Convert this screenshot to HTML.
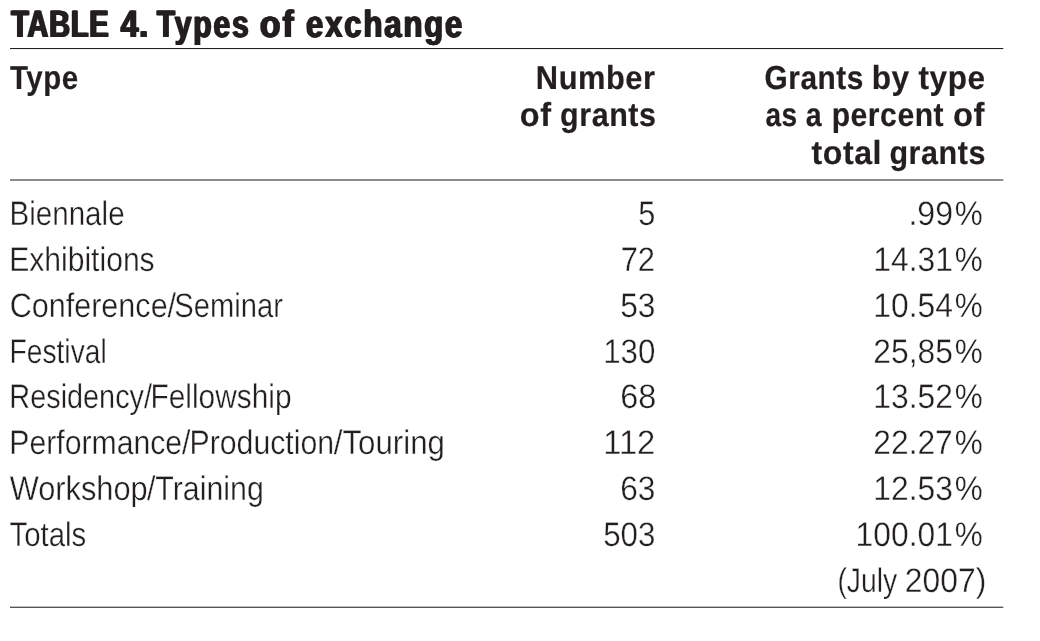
<!DOCTYPE html>
<html lang="en"><head><meta charset="utf-8"><title>TABLE 4. Types of exchange</title>
<style>
html,body{margin:0;padding:0;background:#fff;}
body{width:1040px;height:641px;overflow:hidden;}
svg{display:block;}
text{font-family:"Liberation Sans",sans-serif;fill:#231f20;white-space:pre;text-rendering:geometricPrecision;}
.t{font-weight:bold;stroke:#231f20;stroke-width:0.2px;stroke-linejoin:round;text-shadow:0.95px 0 #231f20,-0.95px 0 #231f20;letter-spacing:2.3px;}
.b{font-weight:bold;stroke:#231f20;stroke-width:0.2px;stroke-linejoin:round;letter-spacing:0.6px;}
.l{stroke:#fff;stroke-width:0.35px;paint-order:fill stroke;}
</style></head><body>
<svg width="1040" height="641" viewBox="0 0 1040 641">
<rect width="1040" height="641" fill="#fff"/>
<rect x="10" y="48" width="993.3" height="1.05" fill="#231f20"/>
<rect x="10" y="179.05" width="993.3" height="1.85" fill="#858283"/>
<rect x="10" y="606.65" width="993.3" height="1.3" fill="#514d4e"/>
<text y="37" font-size="38.0" class="t"><tspan x="11.02" textLength="98.35" lengthAdjust="spacingAndGlyphs" style="letter-spacing:1px;text-shadow:1.15px 0 #231f20,-1.15px 0 #231f20">TABLE</tspan> <tspan x="120.64" textLength="28.32" lengthAdjust="spacingAndGlyphs" style="letter-spacing:1px;text-shadow:1.15px 0 #231f20,-1.15px 0 #231f20">4.</tspan> <tspan x="156.85" textLength="93.80" lengthAdjust="spacingAndGlyphs">Types</tspan> <tspan x="259.92" textLength="35.79" lengthAdjust="spacingAndGlyphs">of</tspan> <tspan x="306.09" textLength="158.15" lengthAdjust="spacingAndGlyphs">exchange</tspan></text>
<text y="89" font-size="33.2" class="b"><tspan x="10.05" textLength="68.63" lengthAdjust="spacingAndGlyphs">Type</tspan></text>
<text y="89" font-size="33.2" class="b"><tspan x="535.84" textLength="119.76" lengthAdjust="spacingAndGlyphs">Number</tspan></text>
<text y="126" font-size="33.2" class="b"><tspan x="519.81" textLength="31.77" lengthAdjust="spacingAndGlyphs">of</tspan> <tspan x="560.12" textLength="96.40" lengthAdjust="spacingAndGlyphs">grants</tspan></text>
<text y="89" font-size="33.2" class="b"><tspan x="764.62" textLength="99.30" lengthAdjust="spacingAndGlyphs">Grants</tspan> <tspan x="871.66" textLength="38.12" lengthAdjust="spacingAndGlyphs">by</tspan> <tspan x="918.48" textLength="67.15" lengthAdjust="spacingAndGlyphs">type</tspan></text>
<text y="126" font-size="33.2" class="b"><tspan x="765.46" textLength="32.19" lengthAdjust="spacingAndGlyphs">as</tspan> <tspan x="805.67" textLength="16.39" lengthAdjust="spacingAndGlyphs">a</tspan> <tspan x="831.68" textLength="112.47" lengthAdjust="spacingAndGlyphs">percent</tspan> <tspan x="952.93" textLength="32.12" lengthAdjust="spacingAndGlyphs">of</tspan></text>
<text y="164" font-size="33.2" class="b"><tspan x="811.47" textLength="70.65" lengthAdjust="spacingAndGlyphs">total</tspan> <tspan x="889.41" textLength="96.50" lengthAdjust="spacingAndGlyphs">grants</tspan></text>
<text y="225" font-size="34.0" class="l"><tspan x="9.47" textLength="115.14" lengthAdjust="spacingAndGlyphs">Biennale</tspan></text>
<text y="225" font-size="34.0" class="l"><tspan x="638.22" textLength="17.08" lengthAdjust="spacingAndGlyphs">5</tspan></text>
<text y="225" font-size="34.0" class="l"><tspan x="908.48" textLength="44.50" lengthAdjust="spacingAndGlyphs">.99</tspan><tspan x="954.71" textLength="27.95" lengthAdjust="spacingAndGlyphs">%</tspan></text>
<text y="271" font-size="34.0" class="l"><tspan x="9.16" textLength="145.50" lengthAdjust="spacingAndGlyphs">Exhibitions</tspan></text>
<text y="271" font-size="34.0" class="l"><tspan x="620.63" textLength="34.39" lengthAdjust="spacingAndGlyphs">72</tspan></text>
<text y="271" font-size="34.0" class="l"><tspan x="873.30" textLength="79.59" lengthAdjust="spacingAndGlyphs">14.31</tspan><tspan x="954.71" textLength="27.95" lengthAdjust="spacingAndGlyphs">%</tspan></text>
<text y="317" font-size="34.0" class="l"><tspan x="9.66" textLength="166.46" lengthAdjust="spacingAndGlyphs">Conference/</tspan><tspan x="174.35" textLength="108.57" lengthAdjust="spacingAndGlyphs">Seminar</tspan></text>
<text y="317" font-size="34.0" class="l"><tspan x="620.16" textLength="35.33" lengthAdjust="spacingAndGlyphs">53</tspan></text>
<text y="317" font-size="34.0" class="l"><tspan x="873.30" textLength="79.59" lengthAdjust="spacingAndGlyphs">10.54</tspan><tspan x="954.71" textLength="27.95" lengthAdjust="spacingAndGlyphs">%</tspan></text>
<text y="363" font-size="34.0" class="l"><tspan x="9.52" textLength="97.17" lengthAdjust="spacingAndGlyphs">Festival</tspan></text>
<text y="363" font-size="34.0" class="l"><tspan x="603.16" textLength="52.18" lengthAdjust="spacingAndGlyphs">130</tspan></text>
<text y="363" font-size="34.0" class="l"><tspan x="873.30" textLength="79.59" lengthAdjust="spacingAndGlyphs">25,85</tspan><tspan x="954.71" textLength="27.95" lengthAdjust="spacingAndGlyphs">%</tspan></text>
<text y="408" font-size="34.0" class="l"><tspan x="9.37" textLength="142.66" lengthAdjust="spacingAndGlyphs">Residency/</tspan><tspan x="150.50" textLength="141.01" lengthAdjust="spacingAndGlyphs">Fellowship</tspan></text>
<text y="408" font-size="34.0" class="l"><tspan x="620.14" textLength="36.11" lengthAdjust="spacingAndGlyphs">68</tspan></text>
<text y="408" font-size="34.0" class="l"><tspan x="873.30" textLength="79.59" lengthAdjust="spacingAndGlyphs">13.52</tspan><tspan x="954.71" textLength="27.95" lengthAdjust="spacingAndGlyphs">%</tspan></text>
<text y="454" font-size="34.0" class="l"><tspan x="9.36" textLength="181.13" lengthAdjust="spacingAndGlyphs">Performance/</tspan><tspan x="189.50" textLength="144.58" lengthAdjust="spacingAndGlyphs">Production</tspan><tspan x="333.71" textLength="111.21" lengthAdjust="spacingAndGlyphs">/Touring</tspan></text>
<text y="454" font-size="34.0" class="l"><tspan x="603.16" textLength="52.18" lengthAdjust="spacingAndGlyphs">112</tspan></text>
<text y="454" font-size="34.0" class="l"><tspan x="873.30" textLength="79.50" lengthAdjust="spacingAndGlyphs">22.27</tspan><tspan x="954.71" textLength="27.95" lengthAdjust="spacingAndGlyphs">%</tspan></text>
<text y="500" font-size="34.0" class="l"><tspan x="9.70" textLength="138.06" lengthAdjust="spacingAndGlyphs">Workshop</tspan><tspan x="146.88" textLength="116.96" lengthAdjust="spacingAndGlyphs">/Training</tspan></text>
<text y="500" font-size="34.0" class="l"><tspan x="620.25" textLength="35.23" lengthAdjust="spacingAndGlyphs">63</tspan></text>
<text y="500" font-size="34.0" class="l"><tspan x="873.30" textLength="79.59" lengthAdjust="spacingAndGlyphs">12.53</tspan><tspan x="954.71" textLength="27.95" lengthAdjust="spacingAndGlyphs">%</tspan></text>
<text y="546" font-size="34.0" class="l"><tspan x="9.45" textLength="76.79" lengthAdjust="spacingAndGlyphs">Totals</tspan></text>
<text y="546" font-size="34.0" class="l"><tspan x="603.16" textLength="52.18" lengthAdjust="spacingAndGlyphs">503</tspan></text>
<text y="546" font-size="34.0" class="l"><tspan x="855.61" textLength="97.28" lengthAdjust="spacingAndGlyphs">100.01</tspan><tspan x="954.71" textLength="27.95" lengthAdjust="spacingAndGlyphs">%</tspan></text>
<text y="592" font-size="34.0" class="l"><tspan x="837.40" textLength="59.89" lengthAdjust="spacingAndGlyphs">(July</tspan> <tspan x="904.83" textLength="81.41" lengthAdjust="spacingAndGlyphs">2007)</tspan></text>
</svg></body></html>
